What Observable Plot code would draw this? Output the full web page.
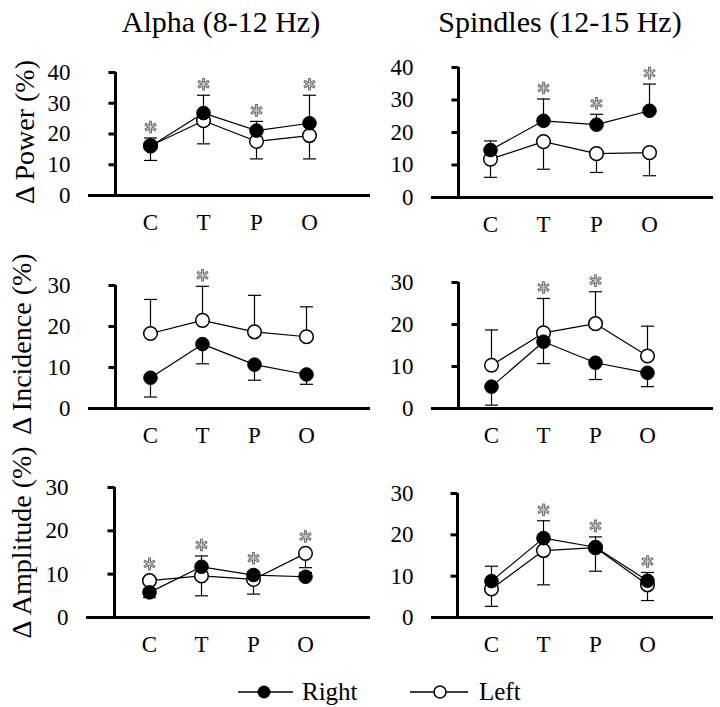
<!DOCTYPE html>
<html><head><meta charset="utf-8">
<script src="https://cdn.jsdelivr.net/npm/d3@7"></script>
<script src="https://cdn.jsdelivr.net/npm/@observablehq/plot@0.6"></script>
<style>
body{margin:0;background:#fff;}
#fig{position:relative;width:720px;height:707px;font-family:'Liberation Serif','Times New Roman',serif;color:#000;overflow:hidden;}
.title{position:absolute;top:7px;font-size:30px;line-height:30px;white-space:nowrap;transform:translateX(-50%);}
.panel{position:absolute;}
.panel svg{overflow:visible;}
.leg{position:absolute;font-size:25px;line-height:25px;white-space:nowrap;}
.sw{position:absolute;}
</style></head><body>
<div id="fig">
<div class="title" style="left:221px">Alpha (8-12 Hz)</div>
<div class="title" style="left:560px">Spindles (12-15 Hz)</div>
<svg class="sw" style="left:236px;top:680px" width="62" height="24"><line x1="2" x2="57" y1="12" y2="12" stroke="#000" stroke-width="1.3"/><circle cx="28" cy="12" r="6.5" fill="#000"/></svg>
<div class="leg" style="left:302px;top:679px">Right</div>
<svg class="sw" style="left:408px;top:680px" width="64" height="24"><line x1="2" x2="60" y1="12" y2="12" stroke="#000" stroke-width="1.3"/><circle cx="32" cy="12" r="6" fill="#fff" stroke="#000" stroke-width="1.5"/></svg>
<div class="leg" style="left:479px;top:679px">Left</div>
</div>
<script>
const categories = ["C", "T", "P", "O"];

// Alpha (8-12 Hz) – Δ Power (%)
const alphaPowerRight = [16.0, 26.8, 21.1, 23.5];
const alphaPowerRightSD = [2.7, 5.8, 3.0, 9.1];
const alphaPowerLeft = [16.2, 24.3, 17.6, 19.5];
const alphaPowerLeftSD = [4.8, 7.5, 5.7, 7.6];
const alphaPowerSig = [1, 1, 1, 1];

// Spindles (12-15 Hz) – Δ Power (%)
const spindlePowerRight = [14.6, 23.6, 22.4, 26.7];
const spindlePowerRightSD = [2.8, 6.7, 3.2, 8.2];
const spindlePowerLeft = [11.8, 17.2, 13.5, 13.8];
const spindlePowerLeftSD = [5.6, 8.5, 5.8, 7.1];
const spindlePowerSig = [0, 1, 1, 1];

// Alpha – Δ Incidence (%)
const alphaIncidenceRight = [7.5, 15.7, 10.7, 8.3];
const alphaIncidenceRightSD = [4.7, 4.8, 3.8, 2.4];
const alphaIncidenceLeft = [18.3, 21.5, 18.7, 17.5];
const alphaIncidenceLeftSD = [8.3, 8.3, 8.9, 7.3];
const alphaIncidenceSig = [0, 1, 0, 0];

// Spindles – Δ Incidence (%)
const spindleIncidenceRight = [5.2, 15.9, 10.9, 8.5];
const spindleIncidenceRightSD = [4.4, 5.2, 4.0, 3.3];
const spindleIncidenceLeft = [10.3, 18.0, 20.2, 12.5];
const spindleIncidenceLeftSD = [8.4, 8.2, 7.6, 7.1];
const spindleIncidenceSig = [0, 1, 1, 0];

// Alpha – Δ Amplitude (%)
const alphaAmplitudeRight = [5.8, 11.7, 9.8, 9.4];
const alphaAmplitudeRightSD = [0.8, 2.5, 0.8, 1.0];
const alphaAmplitudeLeft = [8.5, 9.6, 8.8, 14.8];
const alphaAmplitudeLeftSD = [3.9, 4.6, 3.4, 3.3];
const alphaAmplitudeSig = [1, 1, 1, 1];

// Spindles – Δ Amplitude (%)
const spindleAmplitudeRight = [8.8, 19.2, 17.0, 8.9];
const spindleAmplitudeRightSD = [3.6, 4.2, 2.5, 2.0];
const spindleAmplitudeLeft = [6.9, 16.2, 16.9, 7.9];
const spindleAmplitudeLeftSD = [4.2, 8.3, 5.7, 3.8];
const spindleAmplitudeSig = [0, 1, 1, 1];

const yLabels = ["Δ Power (%)", "Δ Incidence (%)", "Δ Amplitude (%)"];

const panels = [
  {L: 0, ax: 88, xEnd: 370, y0: 195, yTop: 72, ymax: 40, catX: [123, 195, 265, 335], label: yLabels[0], labelX: 25, labelDy: -2, up: "Right",
   right: alphaPowerRight, rightSD: alphaPowerRightSD, left: alphaPowerLeft, leftSD: alphaPowerLeftSD, sig: alphaPowerSig},
  {L: 360, ax: 431, xEnd: 713, y0: 197, yTop: 67, ymax: 40, catX: [463, 534, 604, 675], up: "Right",
   right: spindlePowerRight, rightSD: spindlePowerRightSD, left: spindlePowerLeft, leftSD: spindlePowerLeftSD, sig: spindlePowerSig},
  {L: 0, ax: 88, xEnd: 370, y0: 408, yTop: 285, ymax: 30, catX: [123, 193, 263, 333], label: yLabels[1], labelX: 22, labelDy: -3, up: "Left",
   right: alphaIncidenceRight, rightSD: alphaIncidenceRightSD, left: alphaIncidenceLeft, leftSD: alphaIncidenceLeftSD, sig: alphaIncidenceSig},
  {L: 360, ax: 431, xEnd: 713, y0: 408, yTop: 282, ymax: 30, catX: [464, 535, 604, 673], up: "Left",
   right: spindleIncidenceRight, rightSD: spindleIncidenceRightSD, left: spindleIncidenceLeft, leftSD: spindleIncidenceLeftSD, sig: spindleIncidenceSig},
  {L: 0, ax: 86, xEnd: 370, y0: 617, yTop: 487, ymax: 30, catX: [121, 192, 262, 332], label: yLabels[2], labelX: 22, labelDy: -10, up: "Right",
   right: alphaAmplitudeRight, rightSD: alphaAmplitudeRightSD, left: alphaAmplitudeLeft, leftSD: alphaAmplitudeLeftSD, sig: alphaAmplitudeSig},
  {L: 360, ax: 431, xEnd: 713, y0: 617, yTop: 493, ymax: 30, catX: [465, 534, 605, 673], up: "Right",
   right: spindleAmplitudeRight, rightSD: spindleAmplitudeRightSD, left: spindleAmplitudeLeft, leftSD: spindleAmplitudeLeftSD, sig: spindleAmplitudeSig}
];

const capSymbol = {draw(ctx, size) { const w = Math.sqrt(size / Math.PI); ctx.moveTo(-w, 0); ctx.lineTo(w, 0); }};
const leftTickSymbol = {draw(ctx, size) { const w = Math.sqrt(size / Math.PI); ctx.moveTo(-w, 0); ctx.lineTo(0, 0); }};
const starSymbol = {draw(ctx, size) {
  const r = Math.sqrt(size / Math.PI);
  for (let k = 0; k < 3; k++) {
    const a = Math.PI / 2 + k * Math.PI / 3;
    ctx.moveTo(-r * Math.cos(a), -r * Math.sin(a));
    ctx.lineTo(r * Math.cos(a), r * Math.sin(a));
  }
}};

const fig = document.getElementById("fig");
const DOT_R = 6.8;
const SERIF = "'Liberation Serif','Times New Roman',serif";

for (const p of panels) {
  const T = p.yTop - 30;
  const width = 360;
  const height = (p.y0 - T) + 45;
  const ppu = (p.y0 - p.yTop) / p.ymax;
  const axisDx = p.ax - p.catX[0];
  const tickVals = d3.range(0, p.ymax + 1, 10);
  const rows = [];
  categories.forEach((c, i) => {
    rows.push({series: "Right", cat: c, mean: p.right[i], sd: p.rightSD[i]});
    rows.push({series: "Left", cat: c, mean: p.left[i], sd: p.leftSD[i]});
  });
  rows.forEach(d => { d.end = d.series === p.up ? d.mean + d.sd : d.mean - d.sd; });
  const stars = [];
  categories.forEach((c, i) => {
    if (!p.sig[i]) return;
    const upEnd = p.up === "Right" ? p.right[i] + p.rightSD[i] : p.left[i] + p.leftSD[i];
    const m = Math.max(p.right[i], p.left[i]);
    stars.push({cat: c, y: Math.max(upEnd + 11 / ppu, m + (DOT_R + 10) / ppu)});
  });
  const rightRows = rows.filter(d => d.series === "Right");
  const leftRows = rows.filter(d => d.series === "Left");

  const marks = [
    Plot.axisY({ticks: tickVals, tickSize: 0, tickPadding: 18, fontSize: 23, fontFamily: SERIF, fontVariant: "normal", label: null}),
    Plot.axisX({tickSize: 0, tickPadding: 18, fontSize: 23, fontFamily: SERIF, label: null}),
    // axis lines and y ticks
    Plot.ruleX([categories[0]], {x: d => d, y1: 0, y2: p.ymax, dx: axisDx, stroke: "black", strokeWidth: 3}),
    Plot.ruleY([0], {stroke: "black", strokeWidth: 3}),
    Plot.dot(tickVals, {x: () => categories[0], y: d => d, dx: axisDx, symbol: leftTickSymbol, r: 7, fill: "none", stroke: "black", strokeWidth: 3}),
    // data
    Plot.line(rows, {x: "cat", y: "mean", z: "series", stroke: "black", strokeWidth: 1.2}),
    Plot.ruleX(rows, {x: "cat", y1: "mean", y2: "end", stroke: "black", strokeWidth: 1.2}),
    Plot.dot(rows, {x: "cat", y: "end", symbol: capSymbol, r: 6.5, fill: "none", stroke: "black", strokeWidth: 1.2}),
    Plot.dot(leftRows, {x: "cat", y: "mean", r: DOT_R, fill: "white", stroke: "black", strokeWidth: 1.5}),
    Plot.dot(rightRows, {x: "cat", y: "mean", r: DOT_R, fill: "black", stroke: "black", strokeWidth: 1}),
    Plot.dot(stars, {x: "cat", y: "y", symbol: starSymbol, r: 6.3, fill: "none", stroke: "#6a6a6a", strokeWidth: 3}),
    Plot.dot(stars, {x: "cat", y: "y", symbol: starSymbol, r: 5.4, fill: "none", stroke: "#c4c4c4", strokeWidth: 1.2})
  ];
  if (p.label) {
    marks.push(Plot.text([p.label], {frameAnchor: "left", textAnchor: "middle", lineAnchor: "middle", rotate: -90, dx: p.labelX - p.ax, dy: p.labelDy, fontSize: 28, fontFamily: SERIF, fill: "black"}));
  }

  const chart = Plot.plot({
    width, height,
    marginLeft: p.ax - p.L,
    marginRight: width - (p.xEnd - p.L),
    marginTop: p.yTop - T,
    marginBottom: height - (p.y0 - T),
    x: {type: "point", domain: categories, range: [p.catX[0] - p.L, p.catX[3] - p.L]},
    y: {domain: [0, p.ymax]},
    style: {fontFamily: SERIF, color: "black", background: "transparent", overflow: "visible"},
    marks
  });
  const wrap = document.createElement("div");
  wrap.className = "panel";
  wrap.style.left = p.L + "px";
  wrap.style.top = T + "px";
  wrap.appendChild(chart);
  fig.appendChild(wrap);
}
</script>
</body></html>
